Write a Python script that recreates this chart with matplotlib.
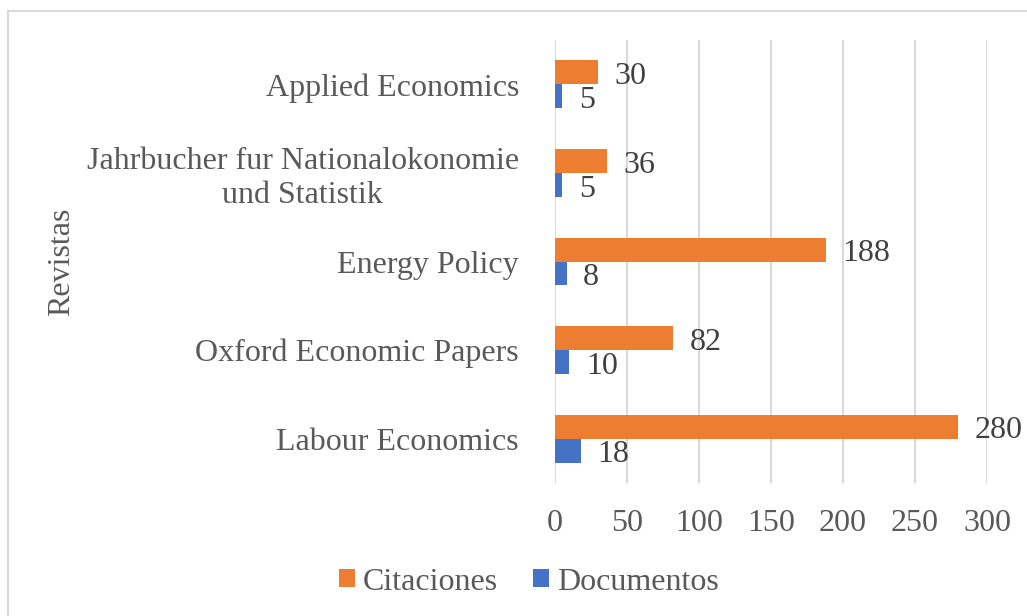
import matplotlib.pyplot as plt
import matplotlib.patches as mpatches
import numpy as np

plt.rcParams['font.family'] = ['Liberation Serif', 'DejaVu Serif']

journals = ['Labour Economics', 'Oxford Economic Papers', 'Energy Policy',
            'Jahrbucher fur Nationalokonomie\nund Statistik', 'Applied Economics']
citaciones = [280, 82, 188, 36, 30]
documentos = [18, 10, 8, 5, 5]

orange = '#ED7D31'
blue = '#4472C4'
grid_c = '#D9D9D9'

fig = plt.figure(figsize=(10.27, 6.16), dpi=100)
ax = fig.add_axes([0.5404, 0.2159, 0.4206, 0.719])

y = np.arange(len(journals))
h = 0.27
b1 = ax.barh(y + h / 2, citaciones, height=h, color=orange, label='Citaciones', zorder=2)
b2 = ax.barh(y - h / 2, documentos, height=h, color=blue, label='Documentos', zorder=2)

for bars in (b1, b2):
    for bar in bars:
        ax.annotate(str(int(bar.get_width())),
                    (bar.get_width(), bar.get_y() + bar.get_height() / 2),
                    xytext=(12, -3), textcoords='offset points',
                    ha='left', va='center', fontsize=23, color='#404040')

ax.set_xlim(0, 300)
ax.set_ylim(-0.5, len(journals) - 0.5)
ax.set_xticks(range(0, 301, 50))
ax.set_yticks(y)
ax.set_yticklabels(journals, multialignment='center')
ax.tick_params(axis='both', length=0, labelsize=23, labelcolor='#595959')
ax.tick_params(axis='y', pad=26)
ax.tick_params(axis='x', pad=19)
ax.grid(axis='x', color=grid_c, linewidth=1.5, zorder=0)
for s in ax.spines.values():
    s.set_visible(False)

fig.text(0.06, 0.575, 'Revistas', rotation=90, ha='center', va='center',
         fontsize=23, color='#595959')

fig.legend(handles=[b1, b2], loc='center', bbox_to_anchor=(0.515, 0.055), ncol=2,
           frameon=False, fontsize=23, handlelength=0.5, handleheight=0.5,
           handletextpad=0.25, columnspacing=1.1, labelcolor='#595959')

fig.patches.append(mpatches.Rectangle((8 / 1027, -0.1), 1.1, 1.1 - 11 / 616,
                                      transform=fig.transFigure, fill=False,
                                      edgecolor=grid_c, linewidth=1.5))

fig.savefig('out.png', dpi=100)
